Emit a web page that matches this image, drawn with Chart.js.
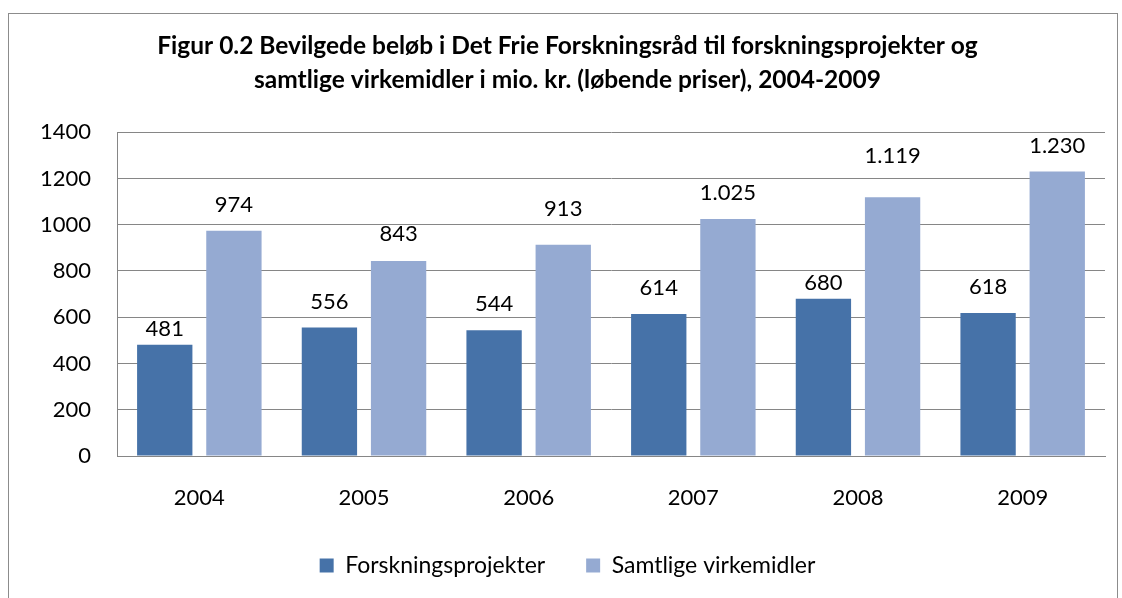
<!DOCTYPE html>
<html>
<head>
<meta charset="utf-8">
<script src="https://cdn.jsdelivr.net/npm/chart.js@4/dist/chart.umd.min.js"></script>
<style>
  html, body { margin: 0; padding: 0; background: #fff; }
  #wrap { width: 1122px; height: 598px; }
</style>
</head>
<body>
<div id="wrap"><canvas id="fundingChart" width="1122" height="598"></canvas></div>
<script>
// Data
const years = ['2004', '2005', '2006', '2007', '2008', '2009'];
const forskningsprojekter = [481, 556, 544, 614, 680, 618];
const samtligeVirkemidler = [974, 843, 913, 1025, 1119, 1230];
const yTicks = [0, 200, 400, 600, 800, 1000, 1200, 1400];

// distance (px) between bar top and label baseline, labels in the original were nudged by hand
const labelGap = [
    [9, 18, 19, 19, 8.5, 19],
    [19, 20, 29, 19, 34, 18]
];

const FONT = 'Lato, "Open Sans", sans-serif';

// danish thousands separator: 1025 -> 1.025
function fmt(v) {
    return String(v).replace(/\B(?=(\d{3})+(?!\d))/g, '.');
}

// outer frame around the whole figure
const framePlugin = {
    id: 'frame',
    beforeDraw(chart) {
        const c = chart.ctx;
        c.save();
        c.fillStyle = '#ffffff';
        c.fillRect(0, 0, chart.width, chart.height);
        c.strokeStyle = '#8c8c8c';
        c.lineWidth = 1;
        c.strokeRect(8.5, 13.5, 1109, 600);
        c.restore();
    }
};

// value labels above each bar
const valueLabels = {
    id: 'valueLabels',
    afterDatasetsDraw(chart) {
        const c = chart.ctx;
        c.save();
        c.font = '22px ' + FONT;
        c.fillStyle = '#000';
        c.textAlign = 'center';
        c.textBaseline = 'alphabetic';
        chart.data.datasets.forEach((ds, i) => {
            chart.getDatasetMeta(i).data.forEach((bar, j) => {
                c.fillText(fmt(ds.data[j]), bar.x, bar.y - labelGap[i][j]);
            });
        });
        c.restore();
    }
};

const ctx = document.getElementById('fundingChart').getContext('2d');

new Chart(ctx, {
    type: 'bar',
    data: {
        labels: years,
        datasets: [{
            label: 'Forskningsprojekter',
            data: forskningsprojekter,
            backgroundColor: '#4672A8',
            barPercentage: 0.8,
            categoryPercentage: 0.84
        }, {
            label: 'Samtlige virkemidler',
            data: samtligeVirkemidler,
            backgroundColor: '#95AAD2',
            barPercentage: 0.8,
            categoryPercentage: 0.84
        }]
    },
    options: {
        responsive: false,
        animation: false,
        layout: { padding: { left: 30, right: 17, top: 30, bottom: 11 } },
        plugins: {
            title: {
                display: true,
                text: ['Figur 0.2 Bevilgede beløb i Det Frie Forskningsråd til forskningsprojekter og',
                       'samtlige virkemidler i mio. kr. (løbende priser), 2004-2009'],
                color: '#000',
                font: { family: FONT, size: 24.5, weight: 'bold', lineHeight: 1.35 },
                padding: { top: 0, bottom: 36 }
            },
            legend: {
                position: 'bottom',
                labels: {
                    color: '#000',
                    font: { family: FONT, size: 23 },
                    boxWidth: 14,
                    boxHeight: 14,
                    padding: 41
                }
            },
            tooltip: { enabled: false }
        },
        scales: {
            x: {
                grid: { display: false, drawTicks: false },
                border: { color: '#868686' },
                ticks: { color: '#000', font: { family: FONT, size: 22 }, padding: 29 },
                afterFit(scale) { scale.height = 57; }
            },
            y: {
                min: 0,
                max: 1400,
                afterBuildTicks(scale) { scale.ticks = yTicks.map(v => ({ value: v })); },
                grid: { color: '#868686', drawTicks: false },
                border: { color: '#868686' },
                ticks: {
                    color: '#000',
                    font: { family: FONT, size: 22 },
                    padding: 26,
                    callback: v => String(v)
                },
                afterFit(scale) { scale.width = 87; }
            }
        }
    },
    plugins: [framePlugin, valueLabels]
});
</script>
</body>
</html>
